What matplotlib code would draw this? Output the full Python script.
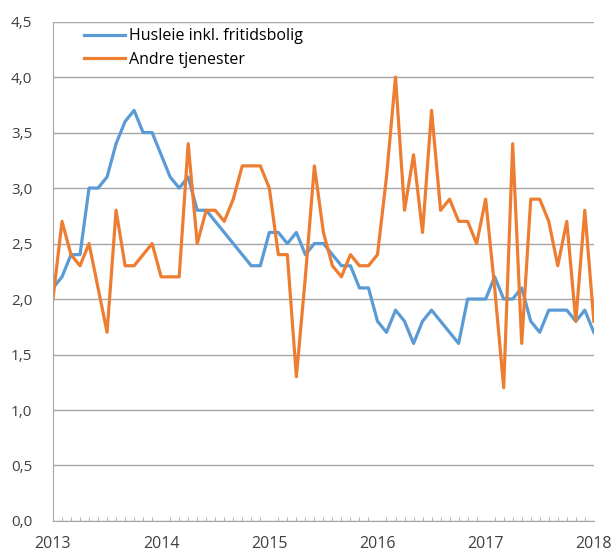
import numpy as np
import matplotlib.pyplot as plt
from matplotlib.ticker import FuncFormatter, MultipleLocator

plt.rcParams['font.family'] = ['Open Sans', 'DejaVu Sans']

# monthly values, Jan 2013 - Jan 2018
husleie = [2.1, 2.2, 2.4, 2.4, 3.0, 3.0, 3.1, 3.4, 3.6, 3.7, 3.5, 3.5,
           3.3, 3.1, 3.0, 3.1, 2.8, 2.8, 2.7, 2.6, 2.5, 2.4, 2.3, 2.3,
           2.6, 2.6, 2.5, 2.6, 2.4, 2.5, 2.5, 2.4, 2.3, 2.3, 2.1, 2.1,
           1.8, 1.7, 1.9, 1.8, 1.6, 1.8, 1.9, 1.8, 1.7, 1.6, 2.0, 2.0,
           2.0, 2.2, 2.0, 2.0, 2.1, 1.8, 1.7, 1.9, 1.9, 1.9, 1.8, 1.9,
           1.7]
andre = [2.0, 2.7, 2.4, 2.3, 2.5, 2.1, 1.7, 2.8, 2.3, 2.3, 2.4, 2.5,
         2.2, 2.2, 2.2, 3.4, 2.5, 2.8, 2.8, 2.7, 2.9, 3.2, 3.2, 3.2,
         3.0, 2.4, 2.4, 1.3, 2.2, 3.2, 2.6, 2.3, 2.2, 2.4, 2.3, 2.3,
         2.4, 3.1, 4.0, 2.8, 3.3, 2.6, 3.7, 2.8, 2.9, 2.7, 2.7, 2.5,
         2.9, 2.1, 1.2, 3.4, 1.6, 2.9, 2.9, 2.7, 2.3, 2.7, 1.8, 2.8,
         1.8]
years = [2013, 2014, 2015, 2016, 2017, 2018]

x = np.arange(len(husleie))

fig = plt.figure(figsize=(6.16, 5.54), dpi=100)
ax = fig.add_axes([0.086, 0.0596, 0.878, 0.9014])

ax.plot(x, husleie, color='#5B9BD5', lw=2.3, label='Husleie inkl. fritidsbolig')
ax.plot(x, andre, color='#ED7D31', lw=2.3, label='Andre tjenester')

ax.set_xlim(0, len(husleie) - 1)
ax.set_ylim(0, 4.5)
ax.yaxis.set_major_locator(MultipleLocator(0.5))
ax.yaxis.set_major_formatter(FuncFormatter(lambda v, p: f"{v:.1f}".replace('.', ',')))
ax.set_xticks(np.arange(0, len(husleie), 12))
ax.set_xticklabels([str(y) for y in years])
ax.set_xticks(x, minor=True)

ax.grid(axis='y', color='#A6A6A6', lw=1)
ax.set_axisbelow(True)
for s in ['top', 'right']:
    ax.spines[s].set_visible(False)
for s in ['left', 'bottom']:
    ax.spines[s].set_color('#A6A6A6')
ax.tick_params(axis='y', length=0, labelsize=11, colors='#404040', pad=15)
ax.tick_params(axis='x', which='major', length=0, labelsize=11.5, colors='#404040', pad=11)
ax.tick_params(axis='x', which='minor', direction='in', length=3, color='#A6A6A6')

ax.legend(loc='upper left', bbox_to_anchor=(0.03, 1.015), frameon=False, fontsize=11.5,
          handlelength=2.6, handletextpad=0.25, labelspacing=0.45)

fig.savefig('out.png')
